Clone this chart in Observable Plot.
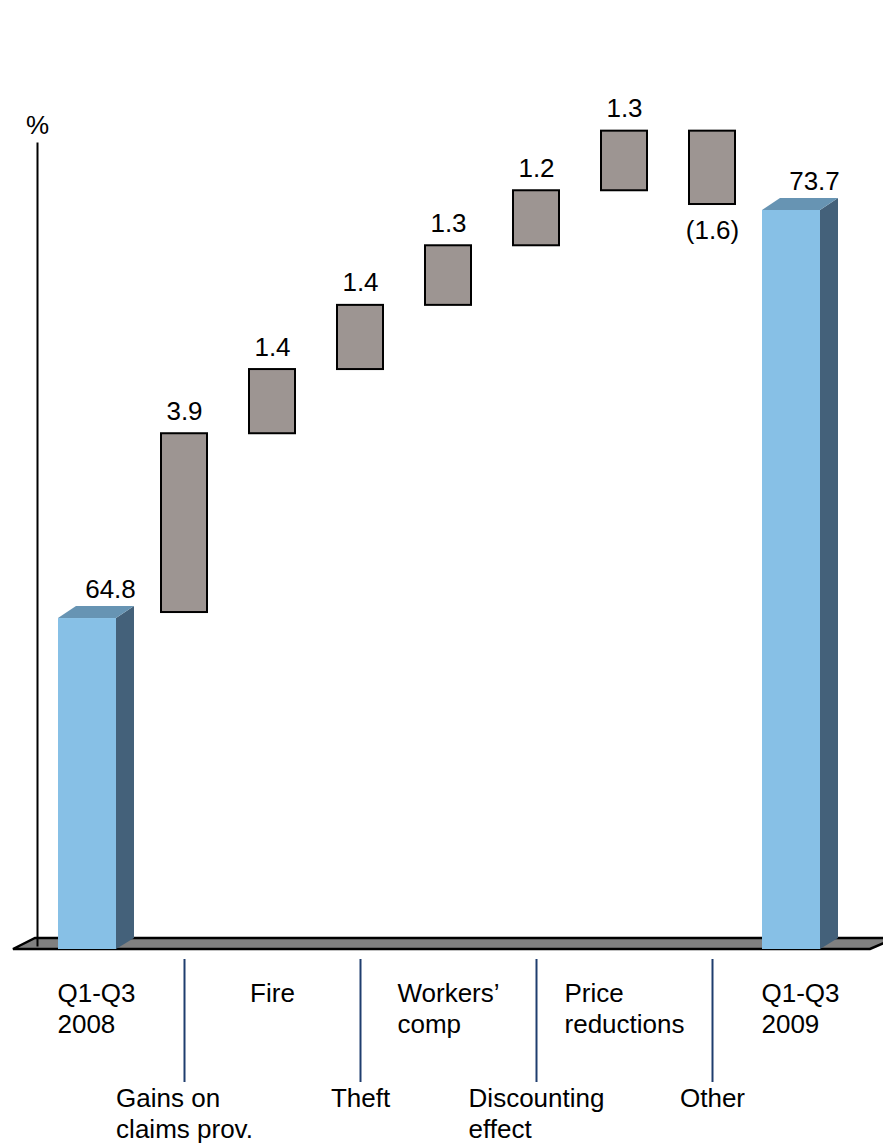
<!DOCTYPE html>
<html>
<head>
<meta charset="utf-8">
<script src="https://cdn.jsdelivr.net/npm/d3@7"></script>
<script src="https://cdn.jsdelivr.net/npm/@observablehq/plot@0.6"></script>
<style>
  body { margin: 0; background: #fff; }
  #chart svg { display: block; }
</style>
</head>
<body>
<div id="chart"></div>
<script>
// Combined ratio bridge, Q1-Q3 2008 to Q1-Q3 2009 (%)
const categories = [
  "Q1-Q3 2008", "Gains on claims prov.", "Fire", "Theft", "Workers' comp",
  "Discounting effect", "Price reductions", "Other", "Q1-Q3 2009"
];
const tickLabels = [
  "Q1-Q3\n2008", "Gains on\nclaims prov.", "Fire", "Theft", "Workers’\ncomp",
  "Discounting\neffect", "Price\nreductions", "Other", "Q1-Q3\n2009"
];
const totals = [64.8, 73.7];                          // opening and closing ratio
const changes = [3.9, 1.4, 1.4, 1.3, 1.2, 1.3, -1.6];  // drivers in between

// Derived tables
const totalRows = [
  {cat: categories[0], value: totals[0]},
  {cat: categories[categories.length - 1], value: totals[1]}
];
let level = totals[0];
const steps = changes.map((change, i) => {
  const start = level;
  level = +(level + change).toFixed(1);
  return {cat: categories[i + 1], start, end: level, change};
});
const labelRows = categories.map((cat, i) => ({cat, label: tickLabels[i], row: i % 2 ? "bottom" : "top"}));
const leaderCats = labelRows.filter(d => d.row === "bottom").map(d => d.cat);

// Styling
const yDomain = [57.45, 78.15];
const frontColor = "#87c0e6", sideColor = "#44617a", topColor = "#6794b3";
const stepColor = "#9d9592", leaderColor = "#1f3d6e", floorColor = "#808080";
const depthX = 18, depthY = 12;
const fontSize = 26;
const lineHeight = 1.21;
const fontFamily = "Arial, 'Liberation Sans', sans-serif";

// Width of the widest line of a label, so that left-aligned blocks sit centred on their band
const measure = (() => {
  const ctx = document.createElement("canvas").getContext("2d");
  ctx.font = `${fontSize}px ${fontFamily}`;
  return text => Math.max(...text.split("\n").map(s => ctx.measureText(s).width));
})();

// Grey platform the bars stand on
function floorMark(index, {y}, values, {width, marginLeft}) {
  const base = y(yDomain[0]);
  const x0 = marginLeft - 24, x1 = width - 13;
  return d3.create("svg:path")
    .attr("d", `M${x0},${base}L${x0 + 22},${base - 11}L${width + 12},${base - 11}L${x1},${base}Z`)
    .attr("fill", floorColor)
    .attr("stroke", "black")
    .attr("stroke-width", 2.5)
    .attr("stroke-linejoin", "miter")
    .node();
}

// Side and top faces of the total columns
function prismFaces(rows) {
  return (index, {x, y}) => {
    const g = d3.create("svg:g");
    const bw = x.bandwidth();
    const base = y(yDomain[0]);
    for (const r of rows) {
      const xl = x(r.cat) + 6, xr = x(r.cat) + bw - 24;
      const yt = y(r.value) + depthY / 2;
      g.append("path")
        .attr("fill", sideColor)
        .attr("d", `M${xr},${yt}L${xr + depthX},${yt - depthY}L${xr + depthX},${base - 11}L${xr},${base}Z`);
      g.append("path")
        .attr("fill", topColor)
        .attr("d", `M${xl},${yt}L${xl + depthX},${yt - depthY}L${xr + depthX},${yt - depthY}L${xr},${yt}Z`);
    }
    return g.node();
  };
}

const fmt = v => v < 0 ? `(${Math.abs(v).toFixed(1)})` : v.toFixed(1);

// One text mark per category label: left-aligned lines, block centred on the band
const categoryLabels = labelRows.map(d => Plot.text([d], {
  x: "cat",
  text: "label",
  frameAnchor: "bottom",
  textAnchor: "start",
  lineAnchor: "top",
  dx: -measure(d.label) / 2,
  dy: d.row === "top" ? 34 : 139,
  lineHeight,
  fontSize,
  fill: "black"
}));

const chart = Plot.plot({
  width: 883,
  height: 1146,
  marginLeft: 37,
  marginRight: 0,
  marginTop: 143,
  marginBottom: 201,
  style: {fontFamily, fontSize: `${fontSize}px`, background: "#fff"},
  x: {type: "band", domain: categories, range: [52, 844], padding: 0, axis: null},
  y: {domain: yDomain, range: [949, 0], axis: null},
  marks: [
    floorMark,
    Plot.frame({anchor: "left", stroke: "black", strokeWidth: 2}),
    Plot.text(["%"], {frameAnchor: "top-left", text: d => d, textAnchor: "middle", lineAnchor: "bottom", dy: -10, fontSize, fill: "black"}),
    // total columns
    Plot.barY(totalRows, {x: "cat", y1: yDomain[0], y2: "value", fill: frontColor, insetLeft: 6, insetRight: 24, insetTop: depthY / 2}),
    prismFaces(totalRows),
    Plot.text(totalRows, {x: "cat", y: "value", text: d => fmt(d.value), lineAnchor: "bottom", dx: 14, dy: -15, fontSize, fill: "black"}),
    // floating change boxes
    Plot.barY(steps, {x: "cat", y1: "start", y2: "end", fill: stepColor, stroke: "black", strokeWidth: 2, insetLeft: 21, insetRight: 21}),
    Plot.text(steps.filter(d => d.change >= 0), {x: "cat", y: "end", text: d => fmt(d.change), lineAnchor: "bottom", dy: -14, fontSize, fill: "black"}),
    Plot.text(steps.filter(d => d.change < 0), {x: "cat", y: "end", text: d => fmt(d.change), lineAnchor: "top", dy: 16, fontSize, fill: "black"}),
    // leader lines down to the lower row of labels
    Plot.ruleX(leaderCats, {x: d => d, stroke: leaderColor, strokeWidth: 2, insetTop: 816, insetBottom: -137}),
    ...categoryLabels
  ]
});

document.getElementById("chart").append(chart);
</script>
</body>
</html>
